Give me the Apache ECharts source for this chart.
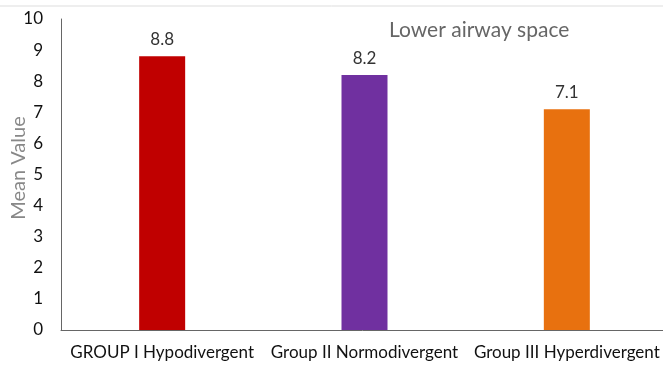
<!DOCTYPE html>
<html>
<head>
<meta charset="utf-8">
<script src="https://cdn.jsdelivr.net/npm/echarts@6/dist/echarts.min.js"></script>
<style>
  html, body { margin: 0; padding: 0; background: #fff; }
  #chart { width: 663px; height: 367px; }
</style>
</head>
<body>
<div id="chart"></div>
<script>
const categories = ['GROUP I Hypodivergent', 'Group II Normodivergent', 'Group III Hyperdivergent'];
const meanValues = [8.8, 8.2, 7.1];
const barColors = ['#C00000', '#7030A0', '#E8710F'];

var myChart = echarts.init(document.getElementById('chart'));
var option = {
  animation: false,
  textStyle: { fontFamily: 'Lato' },
  graphic: [
    { type: 'line', shape: { x1: 0, y1: 6, x2: 663, y2: 6 }, style: { stroke: '#ddd', lineWidth: 1 } },
    { type: 'text', left: 389, top: 20, style: { text: 'Lower airway space', fontSize: 21, fill: '#666', fontFamily: 'Lato' } },
    // y axis title, drawn by hand so it sits where the reference has it
    { type: 'text', x: 19, y: 168, rotation: Math.PI / 2,
      style: { text: 'Mean Value', fontSize: 20, fill: '#888', fontFamily: 'Lato', textAlign: 'center', textVerticalAlign: 'middle' } }
  ],
  grid: { left: 61, right: -5, top: 19, bottom: 37, outerBoundsMode: 'none', containLabel: false },
  xAxis: {
    type: 'category',
    data: categories,
    axisLine: { lineStyle: { color: '#666', width: 1 } },
    axisTick: { show: false },
    axisLabel: { color: '#111', fontSize: 17, margin: 14, interval: 0 }
  },
  yAxis: {
    type: 'value',
    min: 0, max: 10, interval: 1,
    axisLine: { show: true, lineStyle: { color: '#666', width: 1 } },
    axisTick: { show: false },
    splitLine: { show: false },
    axisLabel: { color: '#111', fontSize: 17, margin: 18 }
  },
  series: [{
    type: 'bar',
    barWidth: 46,
    data: meanValues.map((v, i) => ({ value: v, itemStyle: { color: barColors[i] } })),
    label: { show: true, position: 'top', distance: 8, color: '#333', fontSize: 17, fontFamily: 'Lato' }
  }]
};
myChart.setOption(option);
</script>
</body>
</html>
